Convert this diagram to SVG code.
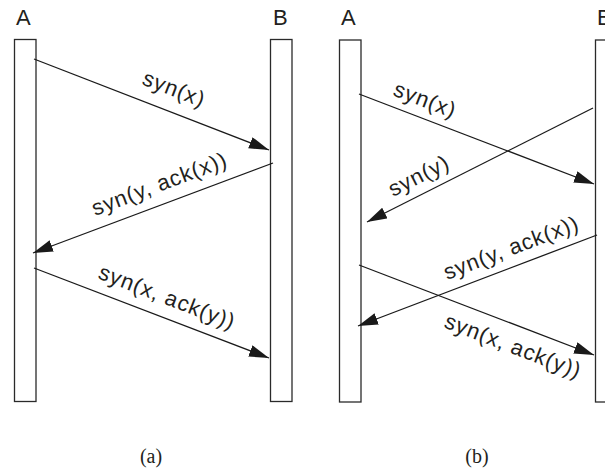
<svg xmlns="http://www.w3.org/2000/svg" width="605" height="474" viewBox="0 0 605 474">
<defs>
<marker id="ah" markerUnits="userSpaceOnUse" markerWidth="22" markerHeight="14" refX="20" refY="6" orient="auto">
<path d="M0,0 L20,6 L0,12 z" fill="#1a1a1a"/>
</marker>
<style>
.bar{fill:#fff;stroke:#2a2a2a;stroke-width:1.3}
.lbl{font-family:"Liberation Sans",Arial,sans-serif;font-size:22px;fill:#231f20}
.msg{font-family:"Liberation Sans",Arial,sans-serif;font-size:22px;letter-spacing:0.9px;fill:#231f20}
.cap{font-family:"Liberation Serif","Times New Roman",serif;font-size:20px;fill:#231f20;text-anchor:middle}
.arr{stroke:#1a1a1a;stroke-width:1.3;fill:none;marker-end:url(#ah)}
</style>
</defs>
<g id="a-A"><text class="lbl" x="16" y="25">A</text><rect class="bar" x="14.5" y="39.5" width="21.5" height="362"/></g>
<g id="a-B"><text class="lbl" x="273" y="25">B</text><rect class="bar" x="270.5" y="39.5" width="21.5" height="362"/></g>
<g id="b-A"><text class="lbl" x="341" y="25">A</text><rect class="bar" x="339.5" y="40" width="21.5" height="362"/></g>
<g id="b-B"><text class="lbl" x="597" y="25">B</text><rect class="bar" x="595.5" y="40" width="21.5" height="362"/></g>
<g id="connectors">
<line class="arr" x1="34" y1="59" x2="269" y2="150"/>
<line class="arr" x1="273" y1="163" x2="33" y2="253"/>
<line class="arr" x1="34" y1="268" x2="269" y2="358"/>
<line class="arr" x1="359" y1="94" x2="594" y2="184"/>
<line class="arr" x1="593" y1="108" x2="367" y2="222"/>
<line class="arr" x1="597" y1="235" x2="358" y2="326"/>
<line class="arr" x1="359" y1="265" x2="594" y2="355"/>
</g>
<g id="labels">
<text class="msg" transform="translate(141,84) rotate(21.2)">syn(x)</text>
<text class="msg" transform="translate(95,216) rotate(-20.6)">syn(y, ack(x))</text>
<text class="msg" transform="translate(97,278) rotate(21)">syn(x, ack(y))</text>
<text class="msg" transform="translate(392,95) rotate(21)">syn(x)</text>
<text class="msg" transform="translate(393,197) rotate(-26.8)">syn(y)</text>
<text class="msg" transform="translate(447,280) rotate(-20.8)">syn(y, ack(x))</text>
<text class="msg" transform="translate(443,327) rotate(21)">syn(x, ack(y))</text>
</g>
<g id="captions">
<text class="cap" x="151" y="463">(a)</text>
<text class="cap" x="477" y="463">(b)</text>
</g>
</svg>
